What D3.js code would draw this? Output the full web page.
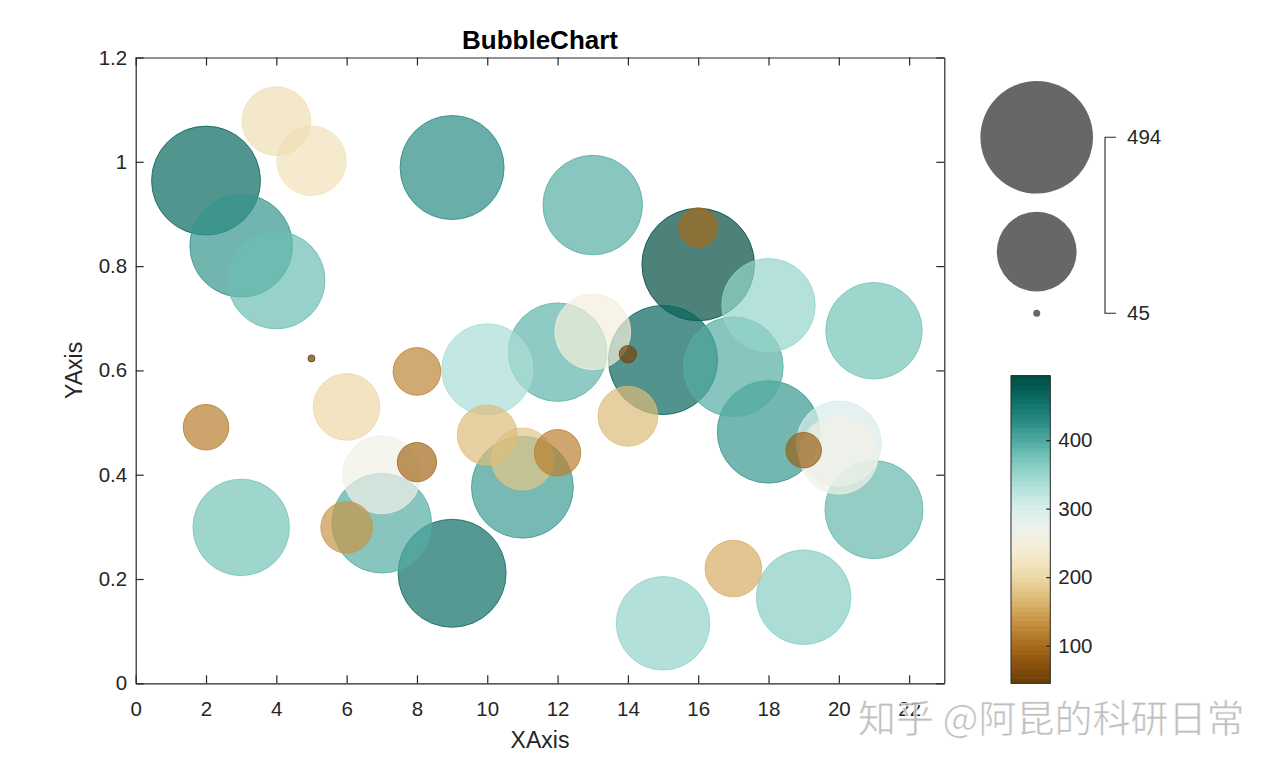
<!DOCTYPE html>
<html>
<head>
<meta charset="utf-8">
<script src="https://cdn.jsdelivr.net/npm/d3@7"></script>
<style>
  html, body { margin: 0; padding: 0; background: #fff; }
  svg { display: block; font-family: "Liberation Sans", Arial, Helvetica, sans-serif; }
</style>
</head>
<body>
<svg id="chart" width="1280" height="767"></svg>
<script>
// ---------- data ----------
const xValues = [2, 2, 3, 3, 4, 4, 5, 5, 6, 6, 7, 7, 8, 8, 9, 9, 10, 10, 11, 11,
                 12, 12, 13, 13, 14, 14, 15, 15, 16, 16, 17, 17, 18, 18, 19, 19, 20, 20, 21, 21];
const yValues = [0.964, 0.491, 0.839, 0.299, 0.773, 1.078, 1.002, 0.623, 0.530, 0.299,
                 0.400, 0.307, 0.598, 0.424, 0.989, 0.211, 0.602, 0.476, 0.430, 0.376,
                 0.635, 0.442, 0.917, 0.674, 0.631, 0.512, 0.620, 0.115, 0.803, 0.874,
                 0.607, 0.220, 0.725, 0.482, 0.447, 0.165, 0.460, 0.438, 0.676, 0.333];
const sizeValues = [465, 117, 418, 374, 380, 211, 215, 45, 201, 138,
                    260, 396, 124, 98, 428, 458, 338, 171, 180, 412,
                    388, 120, 395, 247, 54, 170, 467, 354, 494, 98,
                    396, 157, 353, 416, 88, 361, 300, 262, 374, 385];
const xTicks = [0, 2, 4, 6, 8, 10, 12, 14, 16, 18, 20, 22];
const yTicks = [0, 0.2, 0.4, 0.6, 0.8, 1, 1.2];
const cbTicks = [100, 200, 300, 400];
const sizeLegendLabels = [494, 45];
const titleText = "BubbleChart";
const xLabelText = "XAxis";
const yLabelText = "YAxis";
const watermarkText = "知乎 @阿昆的科研日常";

// ---------- layout ----------
const svg = d3.select("#chart");
const L = 135.7, R = 944.3, T = 57.5, B = 683.3;
const axisColor = "#262626";

const x = d3.scaleLinear().domain([0, 23]).range([L, R]);
const y = d3.scaleLinear().domain([0, 1.2]).range([B, T]);
const sMin = d3.min(sizeValues), sMax = d3.max(sizeValues);
const r = d3.scaleRadial().domain([sMin, sMax]).range([3.5, 56.3]);
const tColor = d3.scaleLinear().domain([sMin, sMax]).range([0.04, 0.96]);
const color = v => d3.interpolateBrBG(tColor(v));

const points = xValues.map((xv, i) => ({x: xv, y: yValues[i], s: sizeValues[i]}));
const drawOrder = points.slice().sort((a, b) => b.s - a.s);

// clip to axes
svg.append("defs").append("clipPath").attr("id", "clip")
  .append("rect").attr("x", L).attr("y", T).attr("width", R - L).attr("height", B - T);

svg.append("g").attr("clip-path", "url(#clip)")
  .selectAll("circle").data(drawOrder).join("circle")
  .attr("cx", d => x(d.x))
  .attr("cy", d => y(d.y))
  .attr("r", d => r(d.s))
  .attr("fill", d => color(d.s))
  .attr("fill-opacity", 0.7)
  .attr("stroke", d => color(d.s))
  .attr("stroke-width", 0.9)
  .attr("stroke-opacity", 0.9);

// ---------- axes ----------
function styleAxis(g) {
  g.selectAll("path.domain").attr("stroke", axisColor).attr("stroke-width", 1.2);
  g.selectAll(".tick line").attr("stroke", axisColor).attr("stroke-width", 1.2);
  g.selectAll(".tick text").attr("fill", "#262626").attr("font-size", 20.5)
    .attr("font-family", "'Liberation Sans', Arial, sans-serif");
}
const gB = svg.append("g").attr("transform", `translate(0,${B})`)
  .call(d3.axisBottom(x).tickValues(xTicks).tickFormat(d => String(d))
    .tickSizeInner(-8).tickSizeOuter(0).tickPadding(18));
styleAxis(gB);
const gT = svg.append("g").attr("transform", `translate(0,${T})`)
  .call(d3.axisTop(x).tickValues(xTicks).tickFormat("").tickSizeInner(-8).tickSizeOuter(0));
styleAxis(gT);
const gLft = svg.append("g").attr("transform", `translate(${L},0)`)
  .call(d3.axisLeft(y).tickValues(yTicks).tickFormat(d => String(d))
    .tickSizeInner(-8).tickSizeOuter(0).tickPadding(8.5));
styleAxis(gLft);
const gRt = svg.append("g").attr("transform", `translate(${R},0)`)
  .call(d3.axisRight(y).tickValues(yTicks).tickFormat("").tickSizeInner(-8).tickSizeOuter(0));
styleAxis(gRt);

// ---------- titles ----------
svg.append("text").attr("x", (L + R) / 2).attr("y", 49)
  .attr("text-anchor", "middle").attr("font-size", 26).attr("font-weight", "bold")
  .attr("fill", "#000").text(titleText);
svg.append("text").attr("x", (L + R) / 2).attr("y", 748)
  .attr("text-anchor", "middle").attr("font-size", 23).attr("fill", "#262626").text(xLabelText);
svg.append("text").attr("transform", `translate(82,${(T + B) / 2}) rotate(-90)`)
  .attr("text-anchor", "middle").attr("font-size", 23).attr("fill", "#262626").text(yLabelText);

// ---------- size legend ----------
const legCx = 1036.7;
const legendValues = [sMax, (sMax + sMin) / 2, sMin];
const legY = d3.scaleLinear().domain([sMin, sMax]).range([313.3, 137.3]);
const legCy = [137.3, 251.7, 313.3];
svg.append("g").selectAll("circle").data(legendValues).join("circle")
  .attr("cx", legCx).attr("cy", (d, i) => legCy[i]).attr("r", d => r(d))
  .attr("fill", "#676767");
const bx = 1105, bx2 = 1116;
svg.append("path")
  .attr("d", `M${bx2},${legY(sMax)}H${bx}V${legY(sMin)}H${bx2}`)
  .attr("fill", "none").attr("stroke", axisColor).attr("stroke-width", 1.1);
svg.append("g").selectAll("text").data(sizeLegendLabels).join("text")
  .attr("x", 1127).attr("y", d => legY(d) + 7)
  .attr("font-size", 20.5).attr("fill", "#262626").text(d => String(d));

// ---------- colorbar ----------
const cbL = 1011, cbR = 1050.3, cbT = 375.7, cbB = 683.3;
const cbScale = d3.scaleLinear().domain([sMin, sMax]).range([cbB, cbT]);
const nBands = 64;
const bandVals = d3.range(nBands).map(i => sMin + (i + 0.5) * (sMax - sMin) / nBands);
const bandH = (cbB - cbT) / nBands;
svg.append("g").selectAll("rect").data(bandVals).join("rect")
  .attr("x", cbL).attr("width", cbR - cbL)
  .attr("y", d => cbScale(d) - bandH / 2 - 0.3).attr("height", bandH + 0.6)
  .attr("fill", d => color(d));
svg.append("rect").attr("x", cbL).attr("y", cbT).attr("width", cbR - cbL).attr("height", cbB - cbT)
  .attr("fill", "none").attr("stroke", axisColor).attr("stroke-width", 1);
const gCb = svg.append("g").attr("transform", `translate(${cbR},0)`)
  .call(d3.axisRight(cbScale).tickValues(cbTicks).tickFormat(d => String(d))
    .tickSizeInner(-4).tickSizeOuter(0).tickPadding(8));
gCb.select("path.domain").remove();
styleAxis(gCb);

// ---------- watermark ----------
svg.append("text").attr("x", 858).attr("y", 732)
  .attr("font-family", "'Noto Sans CJK SC', sans-serif").attr("font-size", 38)
  .attr("fill", "#b4b4b4").attr("fill-opacity", 0.85)
  .attr("stroke", "#ffffff").attr("stroke-width", 0.6)
  .text(watermarkText);
</script>
</body>
</html>
